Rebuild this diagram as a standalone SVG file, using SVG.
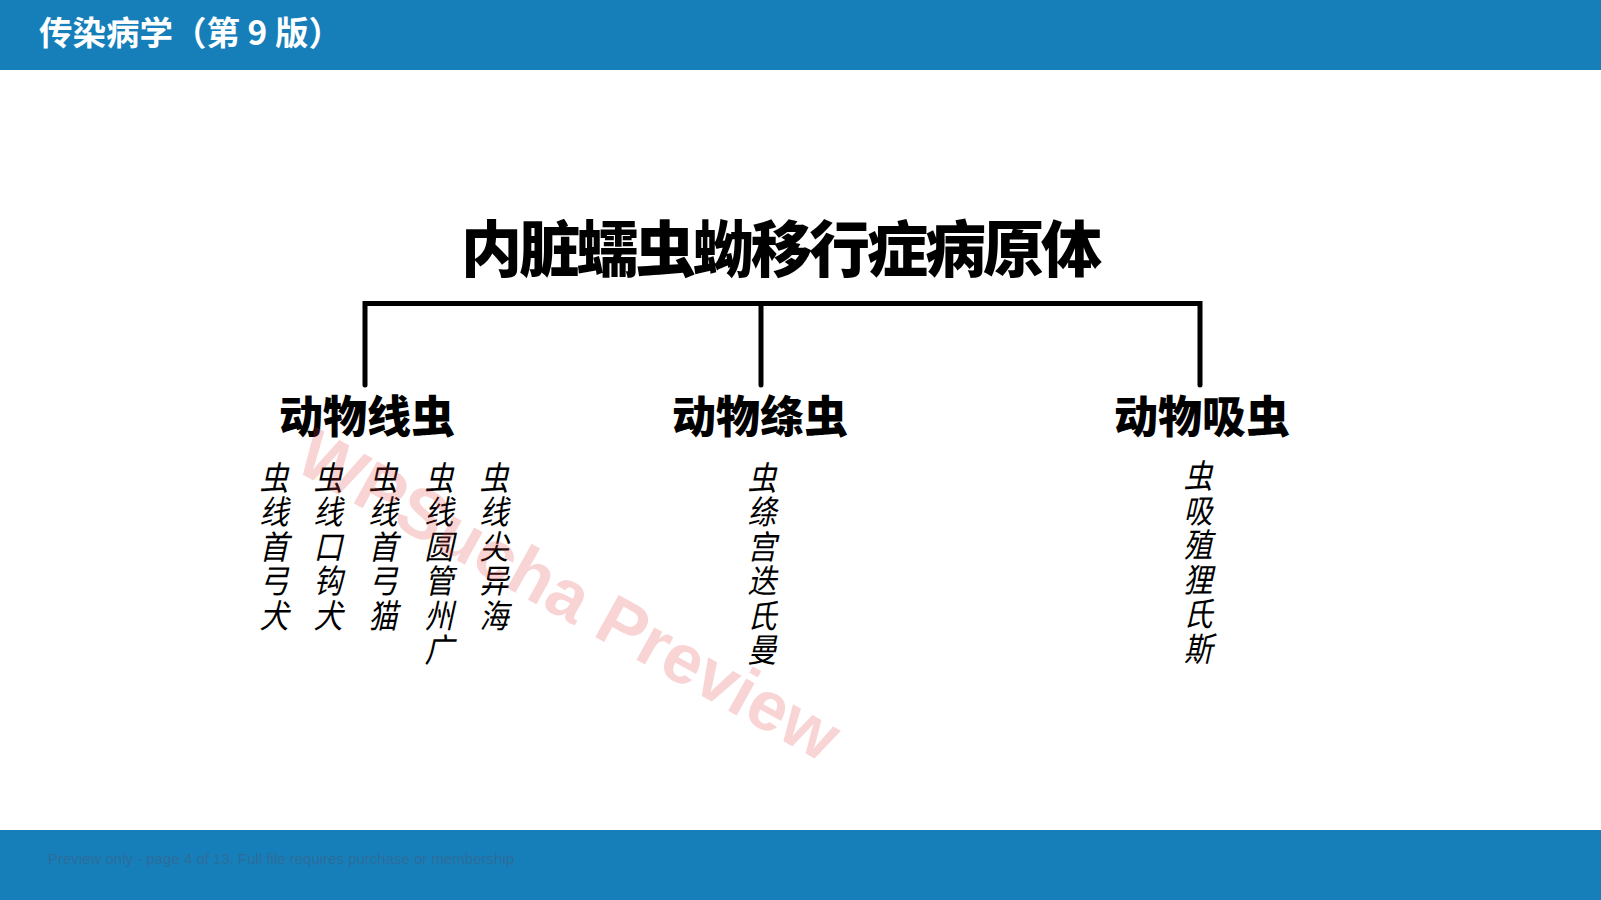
<svg xmlns="http://www.w3.org/2000/svg" width="1601" height="900" viewBox="0 0 1601 900">
  <style>
    .cjk { font-family: "Noto Sans CJK SC", "Noto Sans", sans-serif; }
    .hdr { font-size: 33.5px; font-weight: 700; fill: #ffffff; }
    .title { font-size: 61px; font-weight: 900; fill: #000000; text-anchor: middle; letter-spacing: -3px; }
    .cat { font-size: 44px; font-weight: 900; fill: #000000; text-anchor: middle; }
    .leaf { font-size: 33px; font-weight: 400; font-style: italic; fill: #000000; text-anchor: middle; }
    .conn { fill: none; stroke: #000000; stroke-width: 5; stroke-linecap: round; stroke-linejoin: miter; }
    .bar { fill: #167fba; }
    .foot { font-family: "Liberation Sans", Arial, sans-serif; font-size: 15px; fill: #2d6d9a; }
    .wm { font-family: "Liberation Sans", Arial, sans-serif; font-size: 70px; font-weight: 700; fill: #e03c3c; fill-opacity: 0.22; text-anchor: middle; }
  </style>
  <rect x="0" y="0" width="1601" height="900" fill="#ffffff"/>
  <g id="header">
    <rect class="bar" x="0" y="0" width="1601" height="70"/>
    <text class="cjk hdr" x="39" y="45">传染病学（第 9 版）</text>
  </g>
  <g id="footer">
    <rect class="bar" x="0" y="830" width="1601" height="70"/>
    <text class="foot" x="48" y="864">Preview only - page 4 of 13. Full file requires purchase or membership</text>
  </g>
  <g id="connectors">
    <path class="conn" d="M365,385 V303.5 H1200 V385"/>
    <path class="conn" d="M761,303.5 V385"/>
  </g>
  <g id="root">
    <text class="cjk title" x="780" y="271.5">内脏蠕虫蚴移行症病原体</text>
  </g>
  <g id="cat-nematode">
    <text class="cjk cat" x="367" y="433">动物线虫</text>
  </g>
  <g id="cat-cestode">
    <text class="cjk cat" x="760" y="433">动物绦虫</text>
  </g>
  <g id="cat-trematode">
    <text class="cjk cat" x="1202" y="433">动物吸虫</text>
  </g>
  <g id="leaf-1" transform="translate(274,0) scale(0.88,1) translate(-274,0)">
    <text class="cjk leaf" x="274 274 274 274 274" y="628 593.5 559 524.5 490">犬弓首线虫</text>
  </g>
  <g id="leaf-2" transform="translate(328,0) scale(0.88,1) translate(-328,0)">
    <text class="cjk leaf" x="328 328 328 328 328" y="628 593.5 559 524.5 490">犬钩口线虫</text>
  </g>
  <g id="leaf-3" transform="translate(383,0) scale(0.88,1) translate(-383,0)">
    <text class="cjk leaf" x="383 383 383 383 383" y="628 593.5 559 524.5 490">猫弓首线虫</text>
  </g>
  <g id="leaf-4" transform="translate(439,0) scale(0.88,1) translate(-439,0)">
    <text class="cjk leaf" x="439 439 439 439 439 439" y="662.5 628 593.5 559 524.5 490">广州管圆线虫</text>
  </g>
  <g id="leaf-5" transform="translate(494,0) scale(0.88,1) translate(-494,0)">
    <text class="cjk leaf" x="494 494 494 494 494" y="628 593.5 559 524.5 490">海异尖线虫</text>
  </g>
  <g id="leaf-6" transform="translate(762,0) scale(0.88,1) translate(-762,0)">
    <text class="cjk leaf" x="762 762 762 762 762 762" y="662.5 628 593.5 559 524.5 490">曼氏迭宫绦虫</text>
  </g>
  <g id="leaf-7" transform="translate(1198,0) scale(0.88,1) translate(-1198,0)">
    <text class="cjk leaf" x="1198 1198 1198 1198 1198 1198" y="661 626.5 592 557.5 523 488.5">斯氏狸殖吸虫</text>
  </g>
  <g id="watermark">
    <text class="wm" transform="translate(569,595) rotate(29)" x="0" y="24">WPSucha Preview</text>
  </g>
</svg>
